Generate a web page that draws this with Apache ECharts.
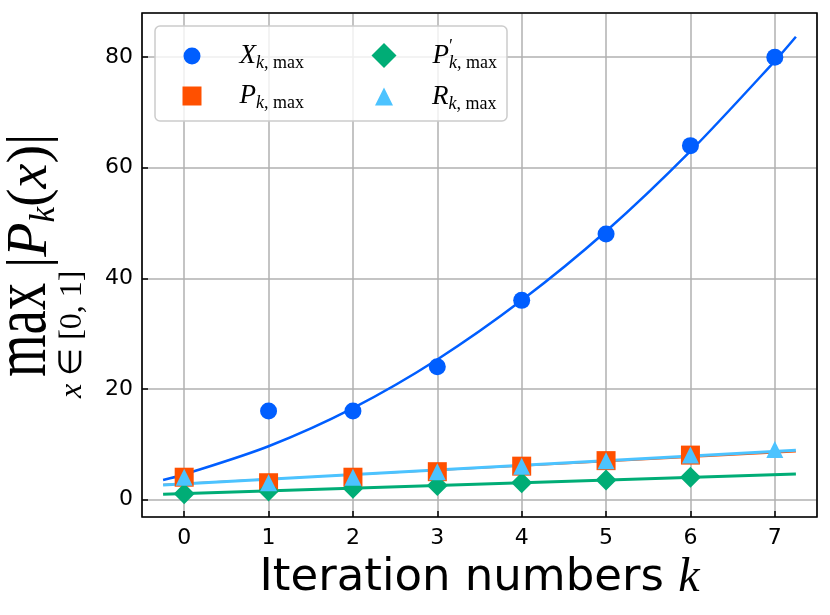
<!DOCTYPE html>
<html>
<head>
<meta charset="utf-8">
<script src="https://cdn.jsdelivr.net/npm/echarts@6/dist/echarts.min.js"></script>
<style>html,body{margin:0;padding:0;background:#fff}#c{width:830px;height:615px}</style>
</head>
<body>
<div id="c"></div>
<script>
// ---- data ----
const kValues = [0, 1, 2, 3, 4, 5, 6, 7];
const xMaxValues = [4, 16, 16, 24, 36, 48, 64, 80];
const pK = [0, 1, 2, 3, 4, 5, 6];
const pMaxValues = [4, 3, 4, 5, 6, 7, 8];
const pPrimeMaxValues = [1, 1.5, 2, 2.5, 3, 3.5, 4];
const rMaxValues = [4, 3, 4, 5, 6, 7, 8, 9];
// fitted curves
const curveK = [-0.25, 0, 1, 2, 3, 4, 5, 6, 7, 7.25];
const xFitValues = [3.5, 4.5, 9.6, 16.5, 25.3, 36, 48.5, 63, 79.3, 83.7];
const lineK = [-0.25, 7.25];
const pFitValues = [2.7, 8.6];
const pPrimeFitValues = [0.9, 4.6];
const rFitValues = [2.6, 8.9];
const xTickLabels = ['0', '1', '2', '3', '4', '5', '6', '7'];
const yTickLabels = ['0', '20', '40', '60', '80'];

const C_BLUE = '#005eff', C_ORANGE = '#ff5000', C_GREEN = '#00ad76', C_LBLUE = '#4cc3ff';
const pairs = (xs, ys) => xs.map((x, i) => [x, ys[i]]);

const legendRich = {
  g: { width: 33 },
  L: { fontFamily: 'Liberation Serif', fontStyle: 'italic', fontSize: 27, color: '#000' },
  s: { fontFamily: 'Liberation Serif', fontStyle: 'italic', fontSize: 18, color: '#000', padding: [15, 0, 0, 0] },
  r: { fontFamily: 'Liberation Serif', fontSize: 18, color: '#000', padding: [15, 0, 0, 0] },
  pr: { fontFamily: 'Liberation Serif', fontSize: 18, color: '#000', padding: [0, 0, 16, 0], width: 0 }
};
const legendText = {
  X: '{g| }{L|X}{s|k}{r|, max}',
  P: '{g| }{L|P}{s|k}{r|, max}',
  Pp: '{g| }{L|P}{pr|\u2032}{s|k}{r|, max}',
  R: '{g| }{L|R}{s|k}{r|, max}'
};
function legendItem(name, cx, cy, size, gapW) {
  const rich = Object.assign({}, legendRich, { g: { width: gapW } });
  return { data: [name], orient: 'vertical', left: cx - size / 2, top: cy - size / 2,
    itemWidth: size, itemHeight: size, padding: 0, selectedMode: false,
    formatter: n => legendText[n], textStyle: { rich: rich }, z: 20 };
}

const chart = echarts.init(document.getElementById('c'), null, { renderer: 'canvas' });
const GL = 142, GT = 13, GR = 13, GB = 98;
const option = {
  animation: false,
  grid: { left: GL, right: GR, top: GT, bottom: GB, show: false, containLabel: false, outerBoundsMode: 'none' },
  xAxis: {
    type: 'value', min: -0.5, max: 7.5, splitNumber: 8,
    name: '{a|Iteration numbers }{b|k}', nameLocation: 'middle', nameGap: 39,
    nameTextStyle: { rich: {
      a: { fontFamily: 'DejaVu Sans', fontSize: 45, color: '#000', lineHeight: 45 },
      b: { fontFamily: 'Liberation Serif', fontStyle: 'italic', fontSize: 48, color: '#000', lineHeight: 45 }
    } },
    axisLine: { show: false, onZero: false },
    axisTick: { show: true, inside: true, length: 6, lineStyle: { color: '#000', width: 1.5 } },
    axisLabel: { fontFamily: 'DejaVu Sans', fontSize: 22, color: '#000', margin: 10, showMinLabel: false, showMaxLabel: false,
      formatter: v => { const i = kValues.indexOf(v); return i >= 0 ? xTickLabels[i] : ''; } },
    splitLine: { show: true, lineStyle: { color: '#b0b0b0', width: 1.5 } }
  },
  yAxis: {
    type: 'value', min: -3.2, max: 88, splitNumber: 5,
    axisLine: { show: false, onZero: false },
    axisTick: { show: true, inside: true, length: 6, lineStyle: { color: '#000', width: 1.5 } },
    axisLabel: { fontFamily: 'DejaVu Sans', fontSize: 22, color: '#000', margin: 9, showMinLabel: false, showMaxLabel: false,
      formatter: v => { const s = String(v); return yTickLabels.indexOf(s) >= 0 ? s : ''; } },
    splitLine: { show: true, lineStyle: { color: '#b0b0b0', width: 1.5 } }
  },
  legend: [
    legendItem('X', 192, 51, 17, 34),
    legendItem('P', 192, 92, 19, 33),
    legendItem('Pp', 384, 51, 25, 31),
    legendItem('R', 384, 92, 18, 34)
  ],
  graphic: [
    { type: 'rect', z: 10, shape: { x: 155, y: 26, width: 352, height: 95, r: 5 },
      style: { fill: 'rgba(255,255,255,0.8)', stroke: '#cccccc', lineWidth: 1.5 } },
    { type: 'rect', z: 30, silent: true, shape: { x: GL, y: GT, width: 830 - GL - GR, height: 615 - GT - GB },
      style: { fill: 'none', stroke: '#000', lineWidth: 1.6 } },
    { type: 'text', z: 10, x: 25, y: 377, rotation: Math.PI / 2, scaleX: 0.72,
      style: { text: 'max', font: '76px "Liberation Serif"', fill: '#000', align: 'left', verticalAlign: 'middle' } },
    { type: 'text', z: 10, x: 31, y: 268, rotation: Math.PI / 2,
      style: { text: '{b||}{P|P}{k|k}{b|(}{x|x}{b|)|}', align: 'left', verticalAlign: 'middle', fill: '#000',
        rich: {
          b: { fontFamily: 'Liberation Serif', fontSize: 56, fill: '#000' },
          P: { fontFamily: 'Liberation Serif', fontStyle: 'italic', fontSize: 56, fill: '#000' },
          x: { fontFamily: 'Liberation Serif', fontStyle: 'italic', fontSize: 56, fill: '#000' },
          k: { fontFamily: 'Liberation Serif', fontStyle: 'italic', fontSize: 35, fill: '#000', padding: [27, 0, 0, 0] }
        } } },
    { type: 'text', z: 10, x: 73, y: 398, rotation: Math.PI / 2,
      style: { text: '{x|x}{n| \u2208 [0, 1]}', align: 'left', verticalAlign: 'middle', fill: '#000',
        rich: {
          x: { fontFamily: 'Liberation Serif', fontStyle: 'italic', fontSize: 32, fill: '#000' },
          n: { fontFamily: 'Liberation Serif', fontSize: 32, fill: '#000' }
        } } }
  ],
  series: [
    { type: 'line', name: 'Xfit', data: pairs(curveK, xFitValues), smooth: 0.3, showSymbol: false, z: 2,
      lineStyle: { color: C_BLUE, width: 2.5 }, silent: true },
    { type: 'line', name: 'Pfit', data: pairs(lineK, pFitValues), showSymbol: false, z: 2,
      lineStyle: { color: C_ORANGE, width: 1.5 }, silent: true },
    { type: 'line', name: 'PPfit', data: pairs(lineK, pPrimeFitValues), showSymbol: false, z: 2,
      lineStyle: { color: C_GREEN, width: 3 }, silent: true },
    { type: 'line', name: 'Rfit', data: pairs(lineK, rFitValues), showSymbol: false, z: 2,
      lineStyle: { color: C_LBLUE, width: 3 }, silent: true },
    { type: 'scatter', name: 'X', data: pairs(kValues, xMaxValues), symbol: 'circle', symbolSize: 17, z: 3,
      itemStyle: { color: C_BLUE, opacity: 1 } },
    { type: 'scatter', name: 'P', data: pairs(pK, pMaxValues), symbol: 'rect', symbolSize: 19, z: 4,
      itemStyle: { color: C_ORANGE, opacity: 1 } },
    { type: 'scatter', name: 'Pp', data: pairs(pK, pPrimeMaxValues), symbol: 'diamond', symbolSize: 21, z: 5,
      itemStyle: { color: C_GREEN, opacity: 1 } },
    { type: 'scatter', name: 'R', data: pairs(kValues, rMaxValues), symbol: 'triangle', symbolSize: 17, z: 6,
      itemStyle: { color: C_LBLUE, opacity: 1 } }
  ]
};
chart.setOption(option);
</script>
</body>
</html>
